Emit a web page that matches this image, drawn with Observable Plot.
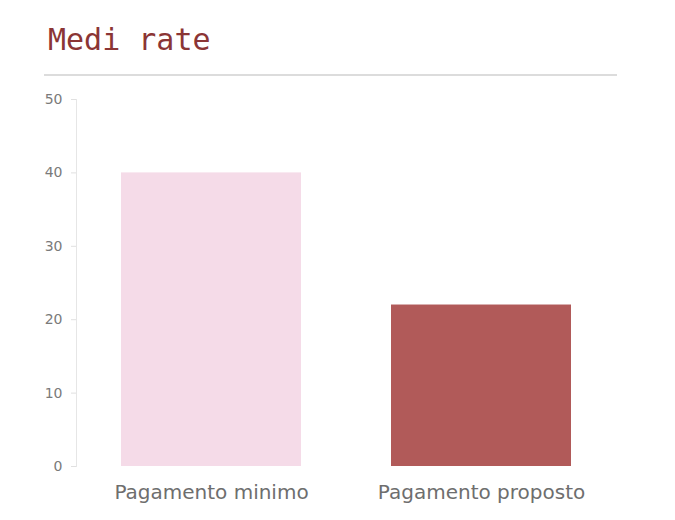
<!DOCTYPE html>
<html>
<head>
<meta charset="utf-8">
<script src="https://cdn.jsdelivr.net/npm/d3@7"></script>
<script src="https://cdn.jsdelivr.net/npm/@observablehq/plot@0.6"></script>
<style>
  html, body { margin: 0; padding: 0; background: #fff; width: 675px; height: 520px; overflow: hidden; position: relative; }
  #title { position: absolute; left: 48px; top: 25px; font-family: "DejaVu Sans Mono", monospace; font-size: 30px; line-height: 30px; color: #8b3535; white-space: nowrap; }
  #rule { position: absolute; left: 44px; top: 74px; width: 573px; height: 2px; background: #dcdcdc; }
  #chart { position: absolute; left: 0; top: 85px; }
</style>
</head>
<body>
<div id="title">Medi rate</div>
<div id="rule"></div>
<div id="chart"></div>
<script>
const categories = ["Pagamento minimo", "Pagamento proposto"];
const values = [40, 22];
const colors = ["#f5dbe8", "#b15a59"];
const yTicks = [0, 10, 20, 30, 40, 50];

const data = categories.map((c, i) => ({category: c, value: values[i], color: colors[i]}));

const chart = Plot.plot({
  width: 675,
  height: 435,
  marginLeft: 76,
  marginRight: 60,
  marginTop: 14,
  marginBottom: 54,
  style: { fontFamily: "'DejaVu Sans', sans-serif", background: "transparent" },
  x: { domain: categories, paddingInner: 0.335, paddingOuter: 0.163, label: null },
  y: { domain: [0, 50], label: null },
  marks: [
    Plot.frame({ anchor: "left", stroke: "#e6e6e6" }),
    Plot.axisY({ ticks: yTicks, tickSize: 5, tickPadding: 9, stroke: "#e0e0e0", color: "#7a7a7a", fontSize: 14, label: null }),
    Plot.axisX({ tickSize: 0, tickPadding: 18, color: "#6e6e6e", fontSize: 20, label: null }),
    Plot.barY(data, { x: "category", y: "value", fill: "color" })
  ]
});
document.getElementById("chart").appendChild(chart);
</script>
</body>
</html>
